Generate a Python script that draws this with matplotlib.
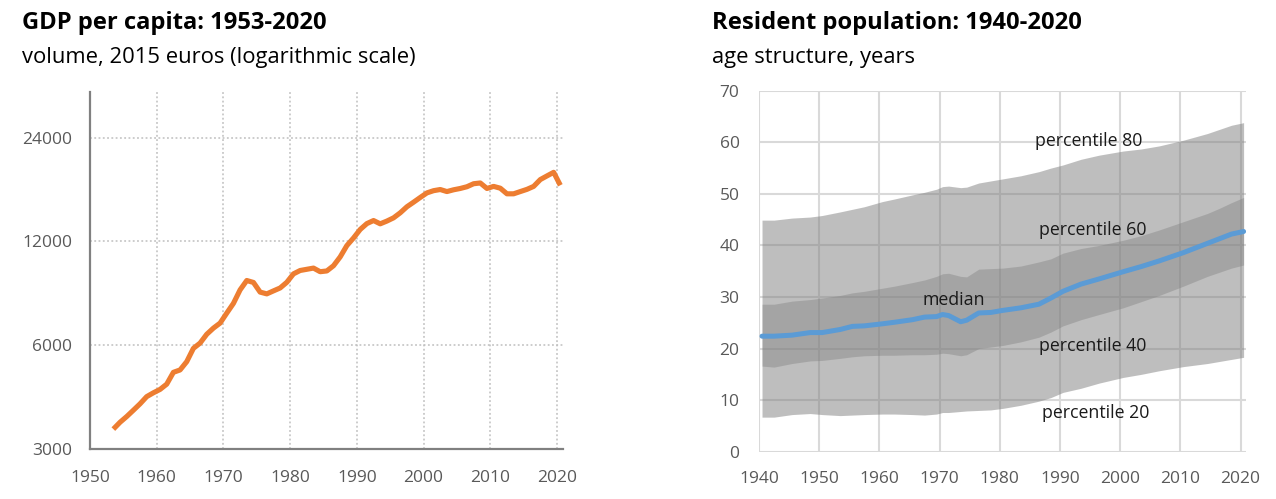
import numpy as np
import matplotlib
matplotlib.use('Agg')
import matplotlib.pyplot as plt

plt.rcParams['font.family'] = ['Open Sans', 'DejaVu Sans']

# GDP per capita, volume, 2015 euros
gdp_years = list(range(1953, 2021))
gdp = [3420, 3580, 3720, 3880, 4050, 4250, 4360, 4460, 4620, 5000,
       5080, 5370, 5870, 6080, 6450, 6720, 6950, 7430, 7930, 8680,
       9240, 9120, 8550, 8450, 8620, 8790, 9130, 9660, 9880, 9960,
       10040, 9800, 9850, 10200, 10820, 11670, 12280, 13000, 13520, 13800,
       13500, 13750, 14050, 14530, 15130, 15600, 16100, 16600, 16850, 16980,
       16750, 16950, 17100, 17300, 17650, 17740, 17100, 17340, 17130, 16500,
       16500, 16750, 17000, 17340, 18150, 18600, 19050, 17470]
gdp_ticks = [3000, 6000, 12000, 24000]

# resident population, age percentiles
pop_years = [1940, 1942, 1945, 1948, 1950, 1953, 1955, 1957, 1960, 1962,
             1965, 1967, 1969, 1970, 1971, 1973, 1974, 1976, 1978, 1980,
             1983, 1986, 1988, 1990, 1993, 1996, 2000, 2003, 2006, 2010,
             2014, 2016, 2018, 2020]
p80 = [44.9, 44.9, 45.3, 45.5, 45.8, 46.5, 47.0, 47.5, 48.5, 49.0,
       49.8, 50.3, 50.9, 51.4, 51.5, 51.2, 51.3, 52.1, 52.5, 52.9,
       53.5, 54.3, 55.0, 55.6, 56.7, 57.5, 58.3, 58.7, 59.3, 60.4,
       61.7, 62.5, 63.3, 63.8]
p60 = [28.6, 28.6, 29.2, 29.5, 29.8, 30.3, 30.8, 31.1, 31.7, 32.1,
       32.8, 33.3, 34.0, 34.5, 34.6, 34.0, 33.9, 35.4, 35.5, 35.6,
       36.0, 36.8, 37.4, 38.5, 39.4, 40.0, 41.0, 41.9, 43.0, 44.6,
       46.2, 47.2, 48.3, 49.3]
p40 = [16.6, 16.4, 17.1, 17.6, 17.7, 18.1, 18.4, 18.6, 18.7, 18.7,
       18.8, 18.8, 18.9, 19.1, 19.0, 18.6, 18.8, 20.0, 20.3, 20.6,
       21.3, 22.2, 23.2, 24.4, 25.6, 26.6, 27.9, 29.1, 30.3, 32.1,
       34.0, 34.8, 35.6, 36.2]
p20 = [6.7, 6.7, 7.2, 7.4, 7.2, 7.0, 7.1, 7.2, 7.3, 7.3,
       7.2, 7.1, 7.3, 7.6, 7.6, 7.8, 7.9, 8.0, 8.1, 8.4,
       9.0, 9.8, 10.5, 11.5, 12.3, 13.3, 14.4, 15.0, 15.7, 16.5,
       17.1, 17.5, 17.9, 18.3]
median = [22.4, 22.4, 22.6, 23.1, 23.1, 23.7, 24.3, 24.4, 24.8, 25.1,
          25.6, 26.1, 26.2, 26.6, 26.4, 25.2, 25.5, 26.9, 27.0, 27.4,
          27.9, 28.6, 29.8, 31.1, 32.5, 33.5, 34.9, 35.9, 37.0, 38.6,
          40.4, 41.3, 42.2, 42.7]

TICK_COL = '#595959'

fig = plt.figure(figsize=(12.76, 4.99), dpi=100)

# ---- left: GDP per capita (log)
ax1 = fig.add_axes([90/1276, 1 - 448.7/499, 473/1276, 356.7/499])
x1 = np.array(gdp_years) + 0.5
ax1.plot(x1, gdp, color='#ed7d31', lw=3.7, solid_capstyle='butt', solid_joinstyle='round')
ax1.set_yscale('log')
ax1.set_ylim(3000, 32600)
ax1.set_xlim(1950, 2020.9)
ax1.set_yticks(gdp_ticks)
ax1.set_yticklabels([str(t) for t in gdp_ticks])
ax1.yaxis.set_minor_locator(matplotlib.ticker.NullLocator())
ax1.set_xticks(range(1950, 2021, 10))
ax1.grid(True, color='#bfbfbf', ls=(0, (1.2, 1.6)), lw=1.1)
ax1.set_axisbelow(True)
for s in ['top', 'right']:
    ax1.spines[s].set_visible(False)
for s in ['left', 'bottom']:
    ax1.spines[s].set_color('#808080')
    ax1.spines[s].set_linewidth(1.6)
ax1.tick_params(length=0, labelsize=12.5, labelcolor=TICK_COL)
ax1.tick_params(axis='y', pad=13)
ax1.tick_params(axis='x', pad=15)

fig.text(22/1276, 1 - 29/499, 'GDP per capita: 1953-2020', fontsize=17.1, fontweight='bold',
         color='black', va='baseline')
fig.text(22/1276, 1 - 63/499, 'volume, 2015 euros (logarithmic scale)', fontsize=15.8,
         color='black', va='baseline')

# ---- right: population age structure
ax2 = fig.add_axes([759/1276, 1 - 451.7/499, 487/1276, 361/499])
x2 = np.array(pop_years) + 0.5
ax2.fill_between(x2, p20, p80, color='#7f7f7f', alpha=0.5, lw=0)
ax2.fill_between(x2, p40, p60, color='#7f7f7f', alpha=0.4, lw=0)
ax2.plot(x2, median, color='#5b9bd5', lw=3.6, solid_capstyle='round')
ax2.set_xlim(1940, 2020.9)
ax2.set_ylim(0, 70)
ax2.set_xticks(range(1940, 2021, 10))
ax2.set_yticks(range(0, 71, 10))
ax2.grid(True, color='#d9d9d9', lw=1.5)
ax2.set_axisbelow(True)
for s in ax2.spines.values():
    s.set_visible(False)
ax2.tick_params(length=0, labelsize=12.5, labelcolor=TICK_COL)
ax2.tick_params(axis='y', pad=14)
ax2.tick_params(axis='x', pad=14)

ann = dict(fontsize=12.8, color='#1a1a1a', ha='center', va='center')
ax2.text(1994.8, 60.3, 'percentile 80', **ann)
ax2.text(1995.5, 43.0, 'percentile 60', **ann)
ax2.text(1995.4, 20.4, 'percentile 40', **ann)
ax2.text(1995.9, 7.6, 'percentile 20', **ann)
ax2.text(1972.3, 29.4, 'median', **ann)

fig.text(712/1276, 1 - 29/499, 'Resident population: 1940-2020', fontsize=17.1, fontweight='bold',
         color='black', va='baseline')
fig.text(712/1276, 1 - 63/499, 'age structure, years', fontsize=15.8,
         color='black', va='baseline')

fig.savefig('out.png', dpi=100, facecolor='white')
